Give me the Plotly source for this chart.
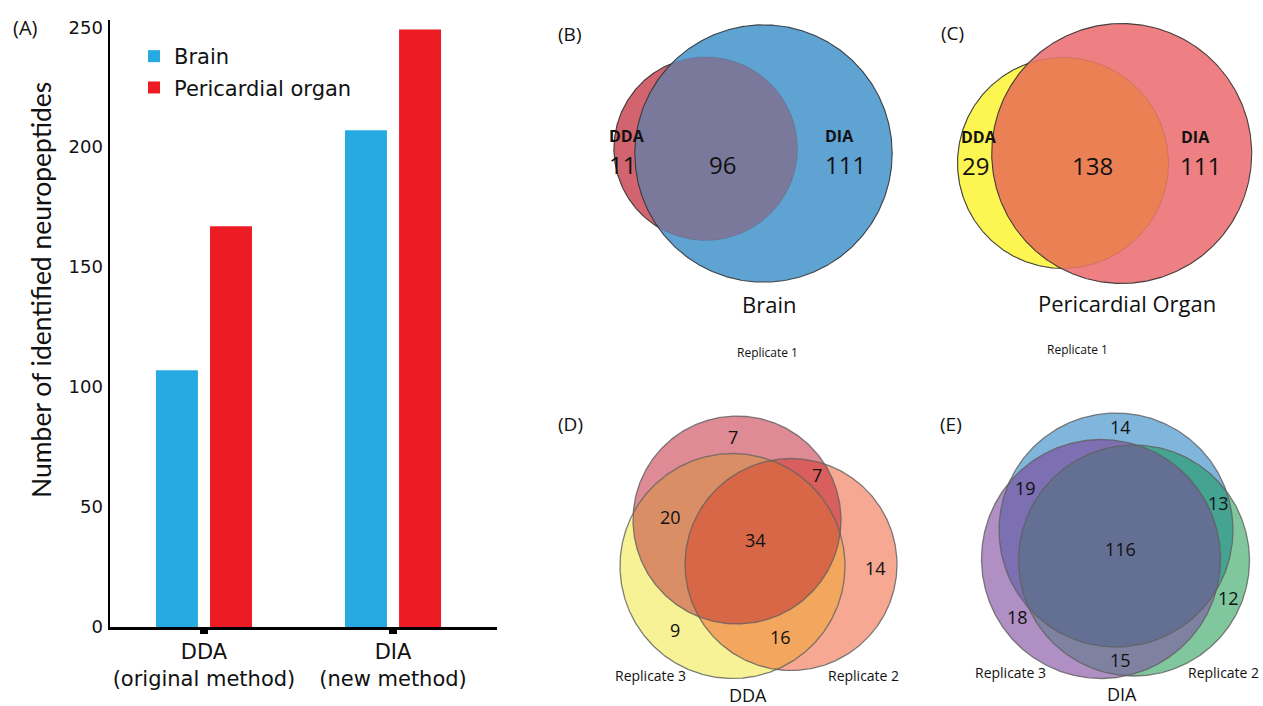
import numpy as np
import plotly.graph_objects as go

# ---------------- data ----------------
methods = ["DDA<br>(original method)", "DIA<br>(new method)"]
brain_counts = [107, 207]
pericardial_counts = [167, 249]
y_tick_values = [0, 50, 100, 150, 200, 250]

# two-set Venns: [DDA only, both, DIA only]
brain_venn = [11, 96, 111]
po_venn = [29, 138, 111]
# three-set Venns: [R1, R2, R3, R1R2, R1R3, R2R3, R1R2R3]
dda_replicates = [7, 14, 9, 7, 20, 16, 34]
dia_replicates = [14, 12, 18, 13, 19, 15, 116]

# ---------------- layout geometry (pixels) ----------------
W, H = 1263, 706


def px_x(v):
    return v / W


def px_y(v):
    return (H - v) / H


fig = go.Figure()

# ---------------- panel A: bars ----------------
fig.add_trace(go.Bar(x=[0, 1], y=brain_counts, name="Brain", width=0.222, offset=-0.254,
                     marker=dict(color="#27AAE1", line=dict(width=0)), legendgroup="b",
                     hoverinfo="skip"))
fig.add_trace(go.Bar(x=[0, 1], y=pericardial_counts, name="Pericardial organ", width=0.222,
                     offset=0.032, marker=dict(color="#ED1C24", line=dict(width=0)),
                     legendgroup="p", hoverinfo="skip"))

# ---------------- Venn helpers ----------------
N = 720


def circle_pts(c, n=N):
    cx, cy, r = c
    t = np.linspace(0, 2 * np.pi, n, endpoint=False)
    return cx + r * np.cos(t), cy + r * np.sin(t)


def region(circles):
    xs, ys = [], []
    for i, c in enumerate(circles):
        x, y = circle_pts(c)
        m = np.ones(len(x), bool)
        for j, d in enumerate(circles):
            if j != i:
                m &= (x - d[0]) ** 2 + (y - d[1]) ** 2 <= d[2] ** 2
        xs.append(x[m])
        ys.append(y[m])
    x = np.concatenate(xs)
    y = np.concatenate(ys)
    a = np.arctan2(y - y.mean(), x - x.mean())
    o = np.argsort(a)
    x, y = x[o], y[o]
    return np.append(x, x[0]), np.append(y, y[0])


def add_fill(circles, color):
    x, y = region(circles)
    fig.add_trace(go.Scatter(x=x, y=y, mode="lines", fill="toself", fillcolor=color,
                             line=dict(width=0), xaxis="x2", yaxis="y2",
                             hoverinfo="skip", showlegend=False))


def add_outline(c, color, width):
    x, y = circle_pts(c)
    x = np.append(x, x[0])
    y = np.append(y, y[0])
    fig.add_trace(go.Scatter(x=x, y=y, mode="lines", line=dict(color=color, width=width),
                             xaxis="x2", yaxis="y2", hoverinfo="skip", showlegend=False))


DARK = "rgba(50,50,50,0.9)"
FAINT = "rgba(60,60,60,0.18)"
GREY = "rgba(95,95,95,0.8)"

# ---------------- panel B ----------------
B_dda = (705.7, 148.7, 91.8)
B_dia = (763.5, 153.5, 128.7)
add_fill([B_dda], "#D1646F")
add_outline(B_dda, DARK, 1.1)
add_fill([B_dia], "#5FA3D3")
add_fill([B_dda, B_dia], "#7A799C")
add_outline(B_dda, FAINT, 1)
add_outline(B_dia, DARK, 1.1)

# ---------------- panel C ----------------
C_dda = (1063.0, 163.0, 105.5)
C_dia = (1121.7, 153.5, 130.0)
add_fill([C_dda], "#FDF552")
add_outline(C_dda, DARK, 1.1)
add_fill([C_dia], "#EE7F82")
add_fill([C_dda, C_dia], "#EC8055")
add_outline(C_dda, FAINT, 1)
add_outline(C_dia, DARK, 1.1)


# ---------------- panels D, E ----------------
def three_venn(c1, c2, c3, cols):
    add_fill([c1], cols[0])
    add_fill([c2], cols[1])
    add_fill([c3], cols[2])
    add_fill([c1, c2], cols[3])
    add_fill([c1, c3], cols[4])
    add_fill([c2, c3], cols[5])
    add_fill([c1, c2, c3], cols[6])
    for c in (c1, c2, c3):
        add_outline(c, GREY, 1.3)


D1 = (737.0, 520.0, 104.0)
D2 = (791.0, 564.5, 106.0)
D3 = (732.5, 566.0, 112.5)
three_venn(D1, D2, D3, ["#DE8B95", "#F6A892", "#F7F295", "#D95E5E", "#D98E65",
                        "#F3A65E", "#D86747"])

E1 = (1116.0, 530.0, 117.0)
E2 = (1134.0, 560.5, 115.5)
E3 = (1101.0, 559.0, 119.5)
three_venn(E1, E2, E3, ["#80B6DC", "#80C79E", "#AF8FC4", "#45A391", "#7C70B3",
                        "#7E82A0", "#637093"])

# ---------------- texts ----------------
VF = "Open Sans"
texts = [
    ("(A)", 25, 27, 20, VF),
    ("(B)", 569, 34, 19, VF),
    ("<b>DDA</b>", 627, 136, 16, VF),
    (str(brain_venn[0]), 622, 164, 24, VF),
    (str(brain_venn[1]), 722, 164, 24, VF),
    ("<b>DIA</b>", 839, 136, 16, VF),
    (str(brain_venn[2]), 845, 164, 24, VF),
    ("Brain", 769, 304, 22, VF),
    ("Replicate 1", 767, 352, 12, VF),
    ("(C)", 952, 33, 19, VF),
    ("<b>DDA</b>", 979, 137, 16, VF),
    (str(po_venn[0]), 975, 165, 24, VF),
    (str(po_venn[1]), 1092, 165, 24, VF),
    ("<b>DIA</b>", 1195, 137, 16, VF),
    (str(po_venn[2]), 1200, 165, 24, VF),
    ("Pericardial Organ", 1127, 303, 22, VF),
    ("Replicate 1", 1077, 349, 12, VF),
    ("(D)", 570, 424, 19, VF),
    (str(dda_replicates[0]), 733, 437, 18, VF),
    (str(dda_replicates[3]), 817, 475, 18, VF),
    (str(dda_replicates[4]), 670, 517, 18, VF),
    (str(dda_replicates[6]), 755, 540, 18, VF),
    (str(dda_replicates[1]), 875, 568, 18, VF),
    (str(dda_replicates[2]), 675, 630, 18, VF),
    (str(dda_replicates[5]), 780, 637, 18, VF),
    ("Replicate 3", 650, 675, 14, VF),
    ("Replicate 2", 863, 675, 14, VF),
    ("DDA", 748, 695, 18, VF),
    ("(E)", 951, 424, 19, VF),
    (str(dia_replicates[0]), 1120, 427, 18, VF),
    (str(dia_replicates[4]), 1025, 488, 18, VF),
    (str(dia_replicates[3]), 1218, 503, 18, VF),
    (str(dia_replicates[6]), 1120, 549, 18, VF),
    (str(dia_replicates[1]), 1228, 598, 18, VF),
    (str(dia_replicates[2]), 1017, 617, 18, VF),
    (str(dia_replicates[5]), 1120, 660, 18, VF),
    ("Replicate 3", 1010, 672, 14, VF),
    ("Replicate 2", 1223, 672, 14, VF),
    ("DIA", 1122, 694, 18, VF),
]
annotations = [dict(x=x, y=y, xref="x2", yref="y2", text=t, showarrow=False,
                    xanchor="center", yanchor="middle",
                    font=dict(family=f, size=s, color="#111111"))
               for (t, x, y, s, f) in texts]
annotations.append(dict(x=41, y=290, xref="x2", yref="y2",
                        text="Number of identified neuropeptides", textangle=-90,
                        showarrow=False, xanchor="center", yanchor="middle",
                        font=dict(family="Lato", size=26.5, color="#111111")))

fig.update_layout(
    width=W, height=H, autosize=False,
    margin=dict(l=0, r=0, t=0, b=0, pad=0, autoexpand=False),
    paper_bgcolor="white", plot_bgcolor="rgba(0,0,0,0)",
    barmode="overlay",
    showlegend=True,
    xaxis=dict(domain=[px_x(110), px_x(497)], range=[-0.497, 1.55],
               tickvals=[0, 1], ticktext=methods, ticks="outside", ticklen=4,
               tickwidth=8, tickcolor="black", showline=True, linecolor="black",
               linewidth=2.5, showgrid=False, zeroline=False, fixedrange=True,
               automargin=False,
               tickfont=dict(family="DejaVu Sans", size=21, color="#111111")),
    yaxis=dict(domain=[px_y(627), px_y(20)], range=[0, 253], tickvals=y_tick_values,
               showline=True, linecolor="black", linewidth=2.5, showgrid=False,
               zeroline=False, ticks="", fixedrange=True, ticklabelstandoff=1,
               automargin=False,
               tickfont=dict(family="DejaVu Sans", size=18, color="#111111")),
    xaxis2=dict(domain=[0, 1], range=[0, W], visible=False, anchor="y2",
                fixedrange=True, automargin=False),
    yaxis2=dict(domain=[0, 1], range=[H, 0], visible=False, anchor="x2",
                fixedrange=True, automargin=False),
    legend=dict(x=px_x(134), y=px_y(36), xanchor="left", yanchor="top",
                bgcolor="rgba(0,0,0,0)", tracegroupgap=1,
                font=dict(family="DejaVu Sans", size=21, color="#111111")),
    annotations=annotations,
)

fig.write_html("out.html", config={"displayModeBar": False, "staticPlot": True},
               post_script="document.documentElement.style.margin='0px';"
                           "document.body.style.margin='0px';"
                           "document.body.style.overflow='hidden';")
